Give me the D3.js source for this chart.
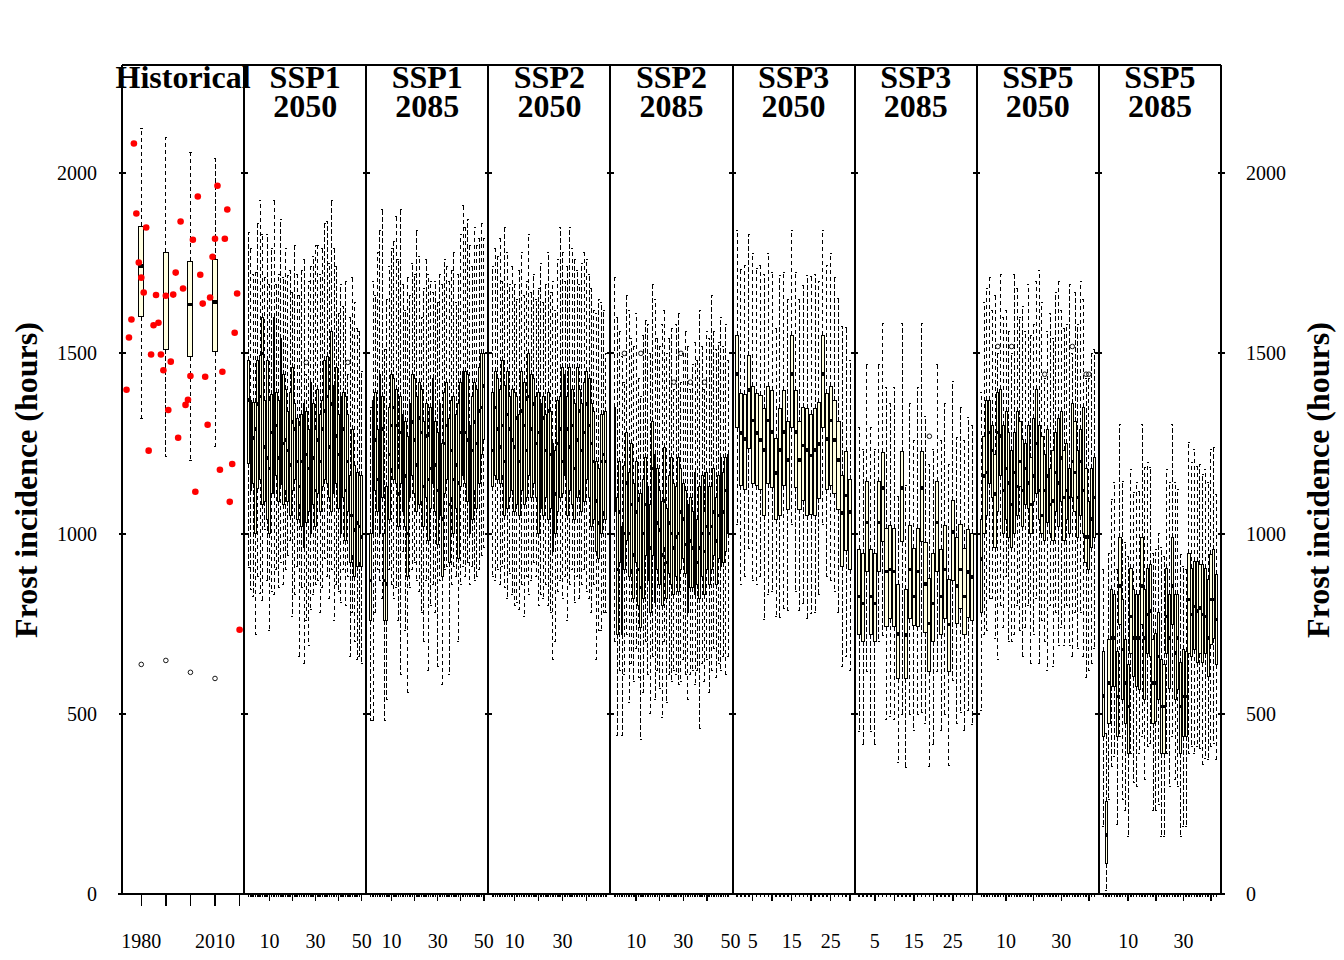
<!DOCTYPE html>
<html>
<head>
<meta charset="utf-8">
<script src="https://cdn.jsdelivr.net/npm/d3@7"></script>
<style>
  body { margin: 0; background: #fff; }
  svg { display: block; font-family: "Liberation Serif", "DejaVu Serif", serif; }
  line, rect { shape-rendering: crispEdges; }
  circle { shape-rendering: geometricPrecision; }
</style>
</head>
<body>
<div id="chart"></div>
<script>
// observed yearly frost hours (red dots)
const histYears = d3.range(1974, 2021);
const histHours = [1399, 1544, 1594, 2082, 1888, 1752, 1710, 1669, 1849, 1230,
  1497, 1578, 1662, 1585, 1497, 1453, 1660, 1343, 1477, 1663, 1724, 1266, 1866,
  1680, 1357, 1371, 1437, 1815, 1116, 1935, 1718, 1638, 1435, 1302, 1655, 1768,
  1818, 1965, 1177, 1449, 1818, 1899, 1088, 1193, 1557, 1666, 733];

// decade boxes: [low whisker, q1, median, q3, high whisker]
const histBoxYears = [1980, 1990, 2000, 2010];
const histBoxes = [
  [1319, 1602, 1742, 1852, 2124],
  [1213, 1511, 1662, 1780, 2099],
  [1204, 1490, 1636, 1755, 2057],
  [1241, 1505, 1643, 1760, 2041]
];
const histOutliers = [637, 648, 615, 598];

// one box per model: [low whisker, q1, median, q3, high whisker]
const ssp1_2050 = [
  [905,1195,1370,1480,1835],[845,1120,1275,1370,1790],[825,1140,1265,1365,1720],[720,1000,1290,1365,1725],
  [880,1125,1360,1480,1860],[835,1150,1380,1495,1925],[815,1080,1500,1600,1830],[1010,1090,1240,1370,1710],
  [870,1040,1210,1480,1830],[730,1000,1180,1370,1690],[840,1110,1280,1385,1790],[830,1110,1340,1600,1925],
  [900,1160,1300,1390,1690],[850,1090,1210,1370,1720],[920,1135,1270,1540,1870],[860,1080,1250,1440,1710],
  [900,1120,1260,1400,1790],[940,1090,1230,1340,1715],[980,1050,1190,1390,1730],[770,1120,1310,1460,1670],
  [830,1150,1290,1360,1800],[910,1040,1200,1320,1720],[660,1080,1130,1300,1660],[850,1020,1200,1330,1730],
  [640,960,1140,1360,1760],[760,1030,1220,1340,1440],[690,1060,1180,1290,1700],[790,1000,1150,1420,1740],
  [830,1080,1210,1360,1770],[860,1020,1120,1290,1800],[870,1110,1260,1400,1800],[780,1060,1200,1330,1720],
  [850,1130,1290,1370,1790],[930,1150,1340,1480,1860],[880,1140,1380,1490,1865],[820,1100,1240,1400,1750],
  [900,1060,1360,1560,1925],[760,1110,1300,1410,1790],[860,1140,1270,1460,1740],[840,1070,1220,1330,1610],
  [810,1000,1260,1380,1690],[900,1100,1290,1390,1630],[800,980,1120,1380,1700],[880,1060,1200,1330,1440],
  [660,920,1050,1160,1600],[780,940,1050,1290,1710],[700,880,1010,1190,1640],[650,910,1030,1170,1570],
  [660,920,1020,1160,1560],[640,910,990,1160,1450]
];
const ssp1_2050_out = [[26, 1475], [44, 1475]];

const ssp1_2085 = [
  [480,760,870,1000,1350],[480,1000,1110,1370,1700],[780,1120,1260,1390,1660],[900,1060,1150,1290,1780],
  [870,1000,1160,1440,1840],[820,1100,1290,1380,1900],[480,760,870,1000,1510],[540,760,860,1130,1650],
  [900,1040,1220,1350,1740],[860,1180,1300,1440,1790],[820,1150,1350,1430,1810],[850,1140,1300,1400,1880],
  [760,1020,1110,1180,1760],[610,1140,1280,1380,1900],[950,1060,1180,1330,1690],[730,1020,1160,1310,1620],
  [560,880,1000,1270,1710],[850,1100,1230,1360,1660],[900,1160,1310,1440,1750],[920,1110,1260,1430,1720],
  [870,1060,1190,1380,1840],[840,1080,1320,1420,1770],[780,1090,1280,1400,1600],[700,1020,1130,1310,1680],
  [870,1100,1270,1360,1760],[620,980,1150,1270,1720],[800,1070,1180,1350,1700],[860,1140,1300,1430,1670],
  [780,1060,1190,1310,1700],[630,970,1120,1280,1640],[870,1050,1240,1360,1720],[580,880,1040,1250,1690],
  [900,1110,1250,1390,1760],[910,1150,1300,1420,1740],[610,920,1080,1320,1700],[860,1100,1230,1370,1730],
  [910,1000,1150,1380,1780],[880,1070,1190,1330,1640],[700,930,1140,1360,1720],[860,1130,1280,1420,1830],
  [910,1160,1320,1450,1910],[880,1140,1280,1450,1850],[920,1090,1260,1440,1870],[860,1000,1180,1300,1800],
  [910,1040,1230,1380,1740],[870,1120,1310,1420,1850],[880,1070,1250,1400,1800],[900,1140,1340,1460,1820],
  [940,1220,1350,1500,1860],[960,1260,1410,1500,1820]
];
const ssp1_2085_out = [];

const ssp2_2050 = [
  [880,1130,1230,1390,1740],[870,1160,1350,1450,1790],[900,1150,1290,1430,1770],[860,1140,1240,1400,1820],
  [910,1160,1300,1480,1700],[850,1050,1200,1410,1850],[820,1070,1330,1450,1780],[890,1100,1290,1380,1690],
  [830,1120,1260,1400,1740],[800,1060,1240,1390,1690],[810,1080,1320,1380,1650],[790,1050,1200,1330,1730],
  [860,1120,1340,1450,1780],[770,1080,1300,1420,1660],[880,1100,1230,1370,1700],[830,1160,1380,1500,1830],
  [870,1100,1290,1440,1670],[920,1140,1360,1430,1720],[880,1100,1250,1380,1650],[800,1000,1280,1390,1680],
  [830,1070,1270,1360,1750],[820,1050,1320,1380,1640],[860,1100,1230,1330,1690],[800,1040,1340,1390,1780],
  [780,1070,1220,1340,1670],[650,950,1080,1250,1700],[700,1000,1110,1230,1620],[840,1060,1250,1370,1760],
  [870,1100,1290,1380,1850],[820,1110,1200,1460,1780],[880,1160,1330,1440,1700],[760,1050,1290,1380,1740],
  [860,1120,1240,1460,1850],[900,1080,1300,1400,1790],[810,1040,1180,1360,1760],[880,1100,1260,1460,1730],
  [820,1120,1340,1400,1690],[860,1060,1230,1360,1750],[900,1090,1280,1420,1780],[840,1150,1360,1450,1760],
  [820,1100,1300,1430,1720],[780,1020,1250,1360,1680],[860,1040,1200,1340,1620],[650,950,1090,1200,1610],
  [730,930,1030,1180,1650],[730,1000,1200,1330,1640],[780,1060,1220,1330,1620],[780,1040,1200,1340,1500]
];
const ssp2_2050_out = [];

const ssp2_2085 = [
  [700,1060,1240,1350,1710],[440,720,900,1100,1600],[620,920,1060,1200,1560],[440,720,860,1020,1490],
  [610,900,1000,1190,1420],[720,980,1140,1280,1660],[530,880,1000,1170,1620],[640,900,1080,1250,1540],
  [590,820,940,1140,1520],[680,920,1060,1200,1610],[600,800,900,1090,1430],[430,740,850,1110,1380],
  [560,820,1000,1150,1550],[700,940,1080,1210,1590],[610,870,990,1130,1580],[500,780,960,1080,1500],
  [660,940,1180,1310,1690],[540,810,1100,1220,1650],[620,900,1030,1180,1540],[570,860,1010,1120,1520],
  [490,800,940,1090,1580],[700,960,1090,1240,1620],[530,820,920,1070,1500],[610,890,1030,1160,1540],
  [590,860,1000,1210,1570],[620,830,960,1140,1400],[610,880,990,1130,1580],[580,840,1000,1210,1610],
  [590,900,1060,1180,1420],[650,930,1040,1140,1500],[610,890,970,1120,1560],[540,780,900,1080,1520],
  [610,850,980,1100,1400],[620,850,960,1060,1470],[580,830,1000,1170,1530],[620,860,920,1040,1480],
  [460,820,960,1130,1620],[640,880,1000,1160,1520],[590,830,950,1060,1400],[650,900,1020,1170,1560],
  [560,860,1000,1130,1540],[620,900,1020,1130,1660],[680,940,1060,1180,1560],[600,860,980,1100,1510],
  [640,930,1050,1160,1530],[620,910,1020,1210,1600],[660,920,1060,1170,1520],[610,950,1120,1210,1580],
  [660,1000,1140,1220,1480]
];
const ssp2_2085_out = [[5, 1500], [12, 1500], [26, 1420], [29, 1500], [33, 1420], [39, 1420]];

const ssp3_2050 = [
  [1024,1294,1443,1550,1842],[860,1133,1279,1389,1733],[880,1123,1262,1386,1743],[959,1237,1399,1493,1829],
  [870,1138,1314,1409,1778],[860,1133,1279,1389,1735],[880,1123,1260,1384,1743],[761,1051,1232,1346,1718],
  [830,1138,1314,1409,1776],[840,1128,1282,1398,1723],[771,1039,1168,1265,1569],[766,1051,1232,1346,1715],
  [791,1133,1282,1398,1723],[786,1068,1204,1310,1649],[1024,1294,1443,1550,1842],[840,1128,1282,1398,1723],
  [786,1068,1204,1310,1649],[806,1093,1244,1349,1688],[763,1051,1232,1346,1715],[779,1054,1217,1331,1712],
  [781,1051,1232,1346,1718],[830,1098,1249,1364,1698],[1024,1294,1443,1550,1842],[880,1123,1262,1389,1743],
  [870,1133,1314,1409,1776],[840,1110,1259,1368,1710],[781,1068,1204,1310,1652],[632,910,1057,1160,1574],
  [660,954,1105,1227,1572],[620,900,1060,1150,1480]
];
const ssp3_2050_out = [];

const ssp3_2085 = [
  [451,721,825,957,1294],[416,701,806,944,1232],[617,895,1031,1145,1470],[451,721,825,957,1294],
  [416,701,806,944,1232],[701,895,1031,1145,1470],[716,979,1126,1225,1584],[483,741,895,1014,1406],
  [493,763,900,1021,1361],[483,741,895,1014,1406],[366,597,721,858,1103],[498,979,1126,1227,1584],
  [352,599,718,845,1133],[498,763,900,1021,1361],[453,746,825,959,1257],[498,741,895,1014,1406],
  [503,979,1126,1227,1584],[473,726,860,974,1326],[354,617,751,875,1192],[416,701,806,944,1232],
  [617,895,1031,1145,1470],[453,721,825,957,1257],[498,763,900,1021,1361],[356,617,748,873,1192],
  [592,870,1004,1091,1421],[473,751,855,989,1267],[503,791,900,1024,1351],[453,721,825,959,1257],
  [508,768,893,1011,1321],[470,760,880,1000,1300]
];
const ssp3_2085_out = [[19, 1270]];

const ssp5_2050 = [
  [510,780,930,1040,1390],[720,1000,1160,1270,1640],[730,1050,1170,1370,1680],[820,1140,1280,1370,1710],
  [820,1100,1230,1300,1620],[710,960,1110,1220,1660],[650,1060,1280,1390,1500],[800,1160,1270,1400,1720],
  [740,1000,1120,1300,1600],[880,1040,1180,1340,1620],[700,990,1140,1280,1560],[700,960,1080,1230,1500],
  [720,1000,1170,1280,1720],[800,1050,1130,1340,1680],[730,1130,1200,1310,1600],[660,1020,1120,1260,1630],
  [740,1080,1180,1250,1560],[800,1070,1140,1300,1690],[640,1000,1080,1210,1550],[720,1090,1160,1320,1580],
  [820,1110,1250,1400,1700],[640,1040,1120,1300,1730],[760,1000,1050,1270,1640],[700,980,1120,1220,1430],
  [620,1030,1160,1290,1560],[800,1000,1080,1180,1610],[630,980,1090,1230,1540],[780,1060,1170,1280,1670],
  [690,1020,1140,1320,1700],[740,1090,1210,1340,1620],[690,980,1100,1230,1570],[800,1040,1120,1250,1580],
  [690,1000,1100,1180,1690],[660,1100,1200,1360,1500],[780,1060,1170,1310,1670],[680,990,1100,1230,1580],
  [780,1050,1200,1290,1700],[660,1000,1120,1350,1650],[600,920,990,1180,1430],[620,900,990,1090,1430],
  [640,960,1040,1180,1500],[680,990,1100,1210,1510]
];
const ssp5_2050_out = [[7, 1519], [12, 1519], [24, 1442], [34, 1519], [39, 1442], [40, 1442]];

const ssp5_2085 = [
  [187,437,550,673,900],[10,85,164,256,446],[261,474,585,706,946],[354,576,710,845,1094],
  [381,576,710,831,1141],[192,437,548,673,900],[437,747,854,988,1303],[261,539,678,817,1145],
  [233,474,585,706,974],[159,391,520,636,937],[391,668,770,904,1178],[308,604,710,845,1113],
  [298,576,710,831,1141],[391,567,710,831,1118],[437,747,854,988,1303],[317,539,710,845,1183],
  [409,668,775,904,1196],[418,659,785,914,1183],[233,474,585,706,946],[233,479,585,724,955],
  [247,539,659,780,1000],[159,391,520,650,960],[159,391,520,636,937],[391,668,770,904,1178],
  [298,571,710,831,1141],[437,747,854,988,1303],[317,539,669,831,1141],[298,567,710,831,1122],
  [159,391,520,641,942],[187,437,548,678,909],[187,437,548,673,900],[391,668,817,946,1252],
  [409,659,775,904,1196],[391,678,798,923,1233],[409,641,785,923,1187],[404,668,793,914,1191],
  [358,641,775,914,1164],[376,668,770,904,1178],[372,604,710,873,1141],[409,692,817,942,1233],
  [418,710,817,955,1238],[372,636,761,887,1108]
];
const ssp5_2085_out = [];

const panelTitles = [["Historical"], ["SSP1", "2050"], ["SSP1", "2085"], ["SSP2", "2050"],
  ["SSP2", "2085"], ["SSP3", "2050"], ["SSP3", "2085"], ["SSP5", "2050"], ["SSP5", "2085"]];
const xTickLabels = [[1980, 2010], [10, 30, 50], [10, 30, 50], [10, 30], [10, 30, 50],
  [5, 15, 25], [5, 15, 25], [10, 30], [10, 30]];
const histTicks = [1980, 1990, 2000, 2010, 2020];
const yTicks = [0, 500, 1000, 1500, 2000];

const scenarioBoxes = [ssp1_2050, ssp1_2085, ssp2_2050, ssp2_2085, ssp3_2050, ssp3_2085, ssp5_2050, ssp5_2085];
const scenarioOut = [ssp1_2050_out, ssp1_2085_out, ssp2_2050_out, ssp2_2085_out, ssp3_2050_out, ssp3_2085_out, ssp5_2050_out, ssp5_2085_out];

// layout
const W = 1344, H = 960;
const plotLeft = 122, plotRight = 1221, plotTop = 65, plotBottom = 894;
const nPanels = 9;
const panelW = (plotRight - plotLeft) / nPanels;
const boxFill = "#FFFFE0";

const svg = d3.select("#chart").append("svg")
  .attr("width", W)
  .attr("height", H);
svg.append("rect").attr("width", W).attr("height", H).attr("fill", "#fff");

const y = d3.scaleLinear().domain([0, 2300]).range([plotBottom, plotTop]);

// x scale of one panel, padded 4% like R does
function panelX(i, lo, hi) {
  const pad = (hi - lo) * 0.04;
  return d3.scaleLinear()
    .domain([lo - pad, hi + pad])
    .range([plotLeft + i * panelW, plotLeft + (i + 1) * panelW]);
}

function drawBoxes(g, data, xpos, bw) {
  const box = g.selectAll("g.box")
    .data(data)
    .join("g")
    .attr("class", "box");
  // upper and lower dashed whiskers
  box.append("line")
    .attr("x1", (d, j) => xpos(j)).attr("x2", (d, j) => xpos(j))
    .attr("y1", d => y(d[3])).attr("y2", d => y(d[4]))
    .attr("stroke", "#000").attr("stroke-dasharray", "4.5,2.5");
  box.append("line")
    .attr("x1", (d, j) => xpos(j)).attr("x2", (d, j) => xpos(j))
    .attr("y1", d => y(d[1])).attr("y2", d => y(d[0]))
    .attr("stroke", "#000").attr("stroke-dasharray", "4.5,2.5");
  // staples
  [4, 0].forEach(k => {
    box.append("line")
      .attr("x1", (d, j) => xpos(j) - Math.max(bw / 4, 1)).attr("x2", (d, j) => xpos(j) + Math.max(bw / 4, 1))
      .attr("y1", d => y(d[k])).attr("y2", d => y(d[k]))
      .attr("stroke", "#000");
  });
  box.append("rect")
    .attr("x", (d, j) => xpos(j) - bw / 2)
    .attr("width", bw)
    .attr("y", d => y(d[3]))
    .attr("height", d => y(d[1]) - y(d[3]))
    .attr("fill", boxFill)
    .attr("stroke", "#000");
  box.append("line")
    .attr("x1", (d, j) => xpos(j) - bw / 2).attr("x2", (d, j) => xpos(j) + bw / 2)
    .attr("y1", d => y(d[2])).attr("y2", d => y(d[2]))
    .attr("stroke", "#000").attr("stroke-width", 3.5);
}

// Historical panel
const xh = panelX(0, d3.min(histYears), d3.max(histYears));
const gh = svg.append("g");
drawBoxes(gh, histBoxes, j => xh(histBoxYears[j]), 5);
gh.selectAll("circle.out")
  .data(histOutliers)
  .join("circle")
  .attr("class", "out")
  .attr("cx", (d, j) => xh(histBoxYears[j]))
  .attr("cy", d => y(d))
  .attr("r", 2.3)
  .attr("fill", "none")
  .attr("stroke", "#000")
  .attr("stroke-width", 0.9);
gh.selectAll("circle.obs")
  .data(histHours)
  .join("circle")
  .attr("class", "obs")
  .attr("cx", (d, j) => xh(histYears[j]))
  .attr("cy", d => y(d))
  .attr("r", 3.3)
  .attr("fill", "#ff0000");

// scenario panels
const scaleList = [xh];
scenarioBoxes.forEach((boxes, k) => {
  const n = boxes.length;
  const x = panelX(k + 1, 1, n);
  scaleList.push(x);
  const bw = (x(2) - x(1)) * 0.8;
  const g = svg.append("g");
  drawBoxes(g, boxes, j => x(j + 1), bw);
  g.selectAll("circle.out")
    .data(scenarioOut[k])
    .join("circle")
    .attr("class", "out")
    .attr("cx", d => x(d[0]))
    .attr("cy", d => y(d[1]))
    .attr("r", 2.3)
    .attr("fill", "none")
    .attr("stroke", "#000")
    .attr("stroke-width", 0.9);
});

// frame and panel dividers
const frame = svg.append("g").attr("stroke", "#000").attr("stroke-width", 2);
frame.append("line").attr("x1", plotLeft).attr("x2", plotRight).attr("y1", plotTop).attr("y2", plotTop);
frame.append("line").attr("x1", plotLeft - 4).attr("x2", plotRight + 4).attr("y1", plotBottom).attr("y2", plotBottom);
d3.range(nPanels + 1).forEach(i => {
  const bx = plotLeft + i * panelW;
  frame.append("line").attr("x1", bx).attr("x2", bx).attr("y1", plotTop).attr("y2", plotBottom);
  yTicks.forEach(t => {
    frame.append("line").attr("x1", bx - 3.5).attr("x2", bx + 3.5).attr("y1", y(t)).attr("y2", y(t));
  });
});

// y labels on both sides
const yl = svg.append("g").attr("font-size", 20);
yl.selectAll("text.l").data(yTicks).join("text").attr("class", "l")
  .attr("x", 97).attr("y", d => y(d) + 7).attr("text-anchor", "end").text(d => d);
yl.selectAll("text.r").data(yTicks).join("text").attr("class", "r")
  .attr("x", 1246).attr("y", d => y(d) + 7).attr("text-anchor", "start").text(d => d);

[37, 1329].forEach(tx => {
  svg.append("text")
    .attr("transform", `translate(${tx},${480}) rotate(-90)`)
    .attr("text-anchor", "middle")
    .attr("font-size", 32)
    .attr("font-weight", "bold")
    .text("Frost incidence (hours)");
});

// x ticks
const xt = svg.append("g").attr("stroke", "#000").attr("stroke-width", 1.5);
histTicks.forEach(t => {
  xt.append("line").attr("x1", xh(t)).attr("x2", xh(t)).attr("y1", plotBottom).attr("y2", plotBottom + 12);
});
scenarioBoxes.forEach((boxes, k) => {
  const x = scaleList[k + 1];
  const n = boxes.length;
  const step = n > 35 ? 10 : 5;
  d3.range(1, n + 1).forEach(j => {
    const len = j % step === 0 ? 7 : 3;
    xt.append("line").attr("x1", x(j)).attr("x2", x(j)).attr("y1", plotBottom).attr("y2", plotBottom + len);
  });
});

const xl = svg.append("g").attr("font-size", 20).attr("text-anchor", "middle");
xTickLabels.forEach((labs, i) => {
  labs.forEach(v => {
    xl.append("text").attr("x", scaleList[i](v)).attr("y", 948).text(v);
  });
});

// panel titles
const tg = svg.append("g").attr("font-size", 32).attr("font-weight", "bold").attr("text-anchor", "middle");
panelTitles.forEach((lines, i) => {
  lines.forEach((s, li) => {
    tg.append("text")
      .attr("x", plotLeft + (i + 0.5) * panelW)
      .attr("y", 88 + li * 29)
      .text(s);
  });
});
</script>
</body>
</html>
